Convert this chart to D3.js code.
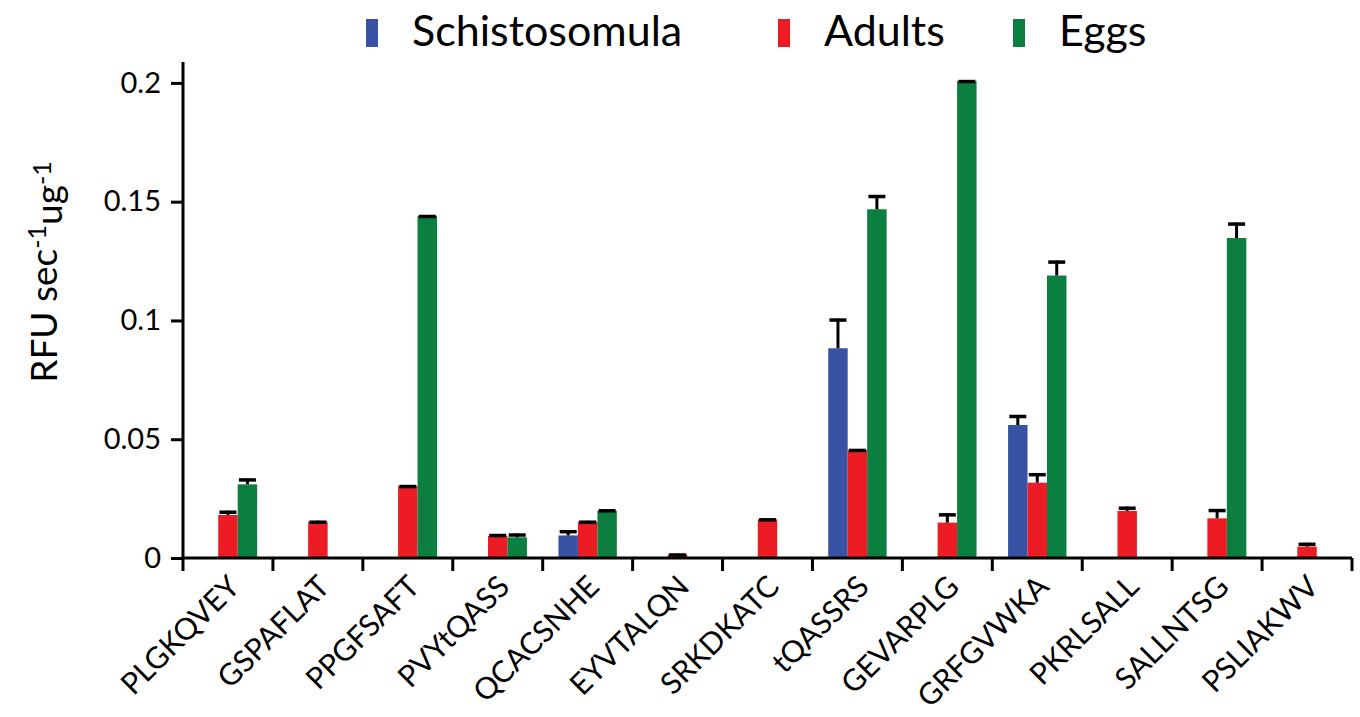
<!DOCTYPE html>
<html>
<head>
<meta charset="utf-8">
<script src="https://cdn.jsdelivr.net/npm/d3@7"></script>
<style>
  html, body { margin: 0; padding: 0; background: #fff; }
  svg { display: block; font-family: Lato, "Open Sans", sans-serif; }
</style>
</head>
<body>
<svg id="chart" width="1360" height="717"></svg>
<script>
const categories = ["PLGKQVEY","GSPAFLAT","PPGFSAFT","PVYtQASS","QCACSNHE","EYVTALQN","SRKDKATC","tQASSRS","GEVARPLG","GRFGVWKA","PKRLSALL","SALLNTSG","PSLIAKWV"];
const seriesNames = ["Schistosomula","Adults","Eggs"];
const seriesColors = ["#3953a4","#ed1c24","#0b7f3f"];
const schistosomula = [0,0,0,0,0.0095,0,0,0.0883,0,0.0560,0,0,0];
const schistosomulaErr = [0,0,0,0,0.0022,0,0,0.0125,0,0.0042,0,0,0];
const adults = [0.0181,0.0153,0.0303,0.0093,0.0153,0.0016,0.0163,0.0455,0.0149,0.0317,0.0198,0.0167,0.0048];
const adultsErr = [0.0018,0.0004,0.0004,0.0008,0.0004,0.0003,0.0004,0.0004,0.0039,0.0040,0.0018,0.0039,0.0016];
const eggs = [0.0310,0,0.1440,0.0087,0.0199,0,0,0.1468,0.2008,0.1189,0,0.1347,0];
const eggsErr = [0.0025,0,0.0004,0.0016,0.0006,0,0,0.0060,0.0004,0.0063,0,0.0065,0];
const yTicks = [0, 0.05, 0.1, 0.15, 0.2];
const yTickLabels = ["0","0.05","0.1","0.15","0.2"];

const values = [schistosomula, adults, eggs];
const errors = [schistosomulaErr, adultsErr, eggsErr];

const svg = d3.select("#chart");
const pLeft = 183, pRight = 1352, pBottom = 558, pTop = 62;

const x = d3.scaleBand().domain(categories).range([pLeft, pRight]).paddingInner(0).paddingOuter(0);
const xs = d3.scaleBand().domain(seriesNames).range([0, x.bandwidth()]).paddingInner(0).paddingOuter(0.81);
const y = d3.scaleLinear().domain([0, 0.2088]).range([pBottom, pTop]);

// bars
const rows = [];
categories.forEach((c, i) => {
  seriesNames.forEach((s, k) => {
    rows.push({c, s, k, v: values[k][i], e: errors[k][i]});
  });
});
const present = rows.filter(d => d.v > 0);

svg.append("g").selectAll("rect").data(present).join("rect")
  .attr("x", d => x(d.c) + xs(d.s))
  .attr("width", xs.bandwidth())
  .attr("y", d => y(d.v))
  .attr("height", d => y(0) - y(d.v))
  .attr("fill", d => seriesColors[d.k]);

// error bars
const eg = svg.append("g").attr("stroke", "#000");
const cx = d => x(d.c) + xs(d.s) + xs.bandwidth() / 2;
eg.selectAll("line.v").data(present).join("line")
  .attr("class", "v")
  .attr("x1", cx).attr("x2", cx)
  .attr("y1", d => y(d.v)).attr("y2", d => y(d.v + d.e))
  .attr("stroke-width", 3);
eg.selectAll("line.cap").data(present).join("line")
  .attr("class", "cap")
  .attr("x1", d => cx(d) - 8.5).attr("x2", d => cx(d) + 8.5)
  .attr("y1", d => y(d.v + d.e) + 1.5).attr("y2", d => y(d.v + d.e) + 1.5)
  .attr("stroke-width", 3.5);

// y axis
const yAxis = d3.axisLeft(y).tickValues(yTicks).tickFormat((d, i) => yTickLabels[i]).tickSizeOuter(0).tickSize(12).tickPadding(10);
const gy = svg.append("g").attr("transform", `translate(${pLeft},0)`).call(yAxis);
gy.select(".domain").attr("stroke-width", 3).attr("d", `M0,${pTop}V${pBottom}`);
gy.selectAll(".tick line").attr("stroke-width", 3);
gy.selectAll(".tick text").attr("font-size", 29).attr("font-family", "Lato, sans-serif").attr("fill", "#000");

// x axis
const gx = svg.append("g").attr("transform", `translate(0,${pBottom})`);
gx.append("line").attr("x1", pLeft - 1.5).attr("x2", pRight).attr("y1", 0).attr("y2", 0).attr("stroke", "#000").attr("stroke-width", 3);
const bounds = categories.map(c => x(c)).concat([x.range()[1]]);
gx.selectAll("line.t").data(bounds).join("line").attr("class", "t")
  .attr("x1", d => d).attr("x2", d => d).attr("y1", 0).attr("y2", 13)
  .attr("stroke", "#000").attr("stroke-width", 3);
gx.selectAll("text").data(categories).join("text")
  .attr("transform", d => `translate(${x(d) + x.bandwidth()/2 + 6},${23}) rotate(-45)`)
  .attr("text-anchor", "end")
  .attr("dy", "0.35em")
  .attr("font-size", 30)
  .attr("fill", "#000")
  .text(d => d);

// y label
const yl = svg.append("text")
  .attr("transform", "translate(57,272) rotate(-90)")
  .attr("text-anchor", "middle")
  .attr("font-size", 37)
  .attr("fill", "#000");
yl.append("tspan").text("RFU sec");
yl.append("tspan").attr("dy", "-0.45em").attr("font-size", 25).text("-1");
yl.append("tspan").attr("dy", "0.45em").text("ug");
yl.append("tspan").attr("dy", "-0.45em").attr("font-size", 25).text("-1");

// legend
const legendX = [366, 778, 1013];
const lg = svg.append("g");
seriesNames.forEach((s, k) => {
  lg.append("rect").attr("x", legendX[k]).attr("y", 19).attr("width", 12).attr("height", 28).attr("fill", seriesColors[k]);
  lg.append("text").attr("x", legendX[k] + 46).attr("y", 46).attr("font-size", 43).attr("fill", "#000").text(s);
});
</script>
</body>
</html>
